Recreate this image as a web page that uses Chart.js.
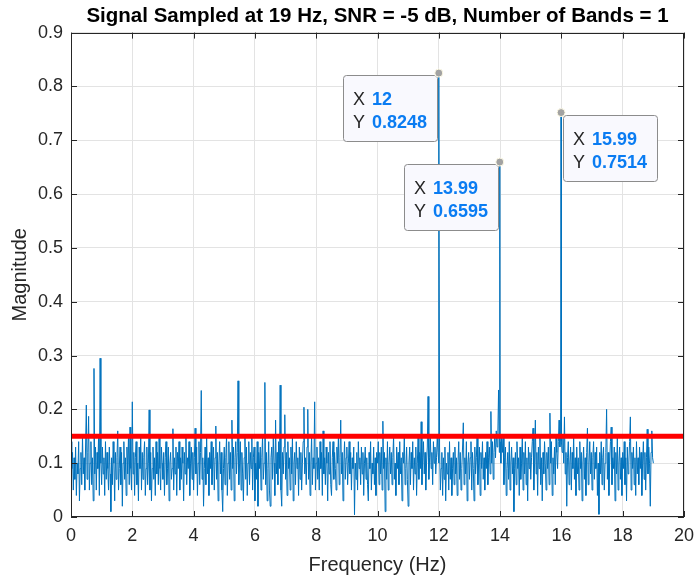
<!doctype html>
<html lang="en">
  <head>
    <meta charset="UTF-8" />
    <title>Signal Sampled at 19 Hz</title>
    <script src="https://cdn.jsdelivr.net/npm/chart.js@4.4.1/dist/chart.umd.min.js"></script>
    <style>
      html, body { margin: 0; padding: 0; background: #fff; }
      #chart { display: block; }
    </style>
  </head>
  <body>
    <canvas id="chart" width="696" height="579"></canvas>
    <script>
      // noise floor, one value every 0.025 Hz from 0 to 19 Hz (20 values = 0.5 Hz per row)
      const freqStep = 0.025;
      const noiseMags = [
        0.14, 0.09, 0.12, 0.05, 0.11, 0.07, 0.13, 0.04, 0.10, 0.08, 0.14, 0.03, 0.09, 0.12, 0.06, 0.15, 0.08, 0.11, 0.05, 0.13,
        0.208, 0.07, 0.12, 0.187, 0.05, 0.10, 0.14, 0.06, 0.11, 0.03, 0.276, 0.08, 0.13, 0.05, 0.12, 0.09, 0.15, 0.04, 0.295, 0.10,
        0.06, 0.13, 0.08, 0.11, 0.04, 0.14, 0.07, 0.12, 0.09, 0.05, 0.13, 0.08, 0.01, 0.11, 0.06, 0.14, 0.10, 0.03, 0.12, 0.07,
        0.11, 0.16, 0.05, 0.09, 0.13, 0.06, 0.12, 0.02, 0.10, 0.14, 0.07, 0.11, 0.04, 0.13, 0.08, 0.15, 0.06, 0.167, 0.09, 0.05,
        0.214, 0.08, 0.12, 0.04, 0.11, 0.14, 0.06, 0.10, 0.03, 0.13, 0.09, 0.15, 0.05, 0.12, 0.07, 0.11, 0.14, 0.04, 0.09, 0.13,
        0.06, 0.10, 0.199, 0.05, 0.12, 0.03, 0.09, 0.13, 0.07, 0.11, 0.04, 0.14, 0.08, 0.12, 0.06, 0.15, 0.09, 0.05, 0.13, 0.10,
        0.07, 0.12, 0.04, 0.11, 0.14, 0.06, 0.09, 0.13, 0.03, 0.10, 0.12, 0.07, 0.09, 0.164, 0.05, 0.11, 0.08, 0.13, 0.04, 0.12,
        0.09, 0.14, 0.05, 0.11, 0.07, 0.13, 0.10, 0.03, 0.12, 0.08, 0.15, 0.06, 0.11, 0.09, 0.14, 0.04, 0.10, 0.13, 0.07, 0.12,
        0.05, 0.11, 0.165, 0.08, 0.13, 0.04, 0.10, 0.14, 0.06, 0.12, 0.235, 0.07, 0.11, 0.02, 0.09, 0.13, 0.06, 0.15, 0.08, 0.11,
        0.04, 0.12, 0.09, 0.14, 0.06, 0.10, 0.13, 0.05, 0.11, 0.169, 0.07, 0.12, 0.03, 0.10, 0.14, 0.08, 0.12, 0.05, 0.01, 0.09,
        0.13, 0.06, 0.11, 0.15, 0.04, 0.10, 0.14, 0.07, 0.12, 0.05, 0.18, 0.09, 0.13, 0.03, 0.11, 0.14, 0.08, 0.12, 0.253, 0.06,
        0.10, 0.14, 0.05, 0.12, 0.08, 0.03, 0.11, 0.15, 0.07, 0.13, 0.04, 0.10, 0.14, 0.06, 0.12, 0.09, 0.15, 0.05, 0.11, 0.13,
        0.03, 0.10, 0.07, 0.14, 0.02, 0.12, 0.09, 0.13, 0.05, 0.11, 0.15, 0.07, 0.10, 0.25, 0.06, 0.12, 0.03, 0.09, 0.14, 0.05,
        0.02, 0.11, 0.13, 0.07, 0.15, 0.10, 0.04, 0.18, 0.08, 0.12, 0.06, 0.14, 0.09, 0.245, 0.05, 0.02, 0.12, 0.08, 0.13, 0.19,
        0.07, 0.12, 0.04, 0.14, 0.09, 0.11, 0.05, 0.13, 0.08, 0.15, 0.03, 0.10, 0.12, 0.06, 0.14, 0.09, 0.11, 0.04, 0.13, 0.07,
        0.12, 0.05, 0.10, 0.14, 0.204, 0.08, 0.11, 0.06, 0.13, 0.20, 0.07, 0.12, 0.04, 0.10, 0.15, 0.06, 0.11, 0.09, 0.214, 0.05,
        0.10, 0.13, 0.07, 0.11, 0.05, 0.14, 0.09, 0.12, 0.04, 0.16, 0.08, 0.11, 0.06, 0.13, 0.10, 0.03, 0.12, 0.08, 0.14, 0.06,
        0.04, 0.11, 0.14, 0.07, 0.12, 0.09, 0.05, 0.13, 0.10, 0.15, 0.06, 0.11, 0.18, 0.08, 0.12, 0.03, 0.10, 0.14, 0.07, 0.11,
        0.13, 0.06, 0.10, 0.14, 0.08, 0.12, 0.05, 0.11, 0.09, 0.13, 0.004, 0.10, 0.07, 0.12, 0.05, 0.14, 0.09, 0.11, 0.06, 0.13,
        0.08, 0.12, 0.04, 0.10, 0.13, 0.07, 0.11, 0.06, 0.03, 0.12, 0.09, 0.14, 0.05, 0.10, 0.08, 0.13, 0.06, 0.11, 0.04, 0.12,
        0.10, 0.14, 0.06, 0.12, 0.08, 0.13, 0.05, 0.178, 0.09, 0.12, 0.01, 0.11, 0.07, 0.14, 0.05, 0.10, 0.13, 0.08, 0.12, 0.06,
        0.11, 0.15, 0.07, 0.10, 0.04, 0.13, 0.09, 0.12, 0.06, 0.14, 0.08, 0.11, 0.03, 0.12, 0.10, 0.15, 0.06, 0.09, 0.13, 0.07,
        0.02, 0.10, 0.13, 0.06, 0.12, 0.09, 0.14, 0.05, 0.11, 0.08, 0.13, 0.04, 0.10, 0.15, 0.07, 0.12, 0.09, 0.177, 0.06, 0.11,
        0.14, 0.08, 0.12, 0.05, 0.10, 0.13, 0.224, 0.07, 0.11, 0.15, 0.09, 0.12, 0.06, 0.14, 0.10, 0.13, 0.08, 0.11, 0.15, 0.12,
        0.10, 0.13, 0.05, 0.09, 0.12, 0.04, 0.11, 0.07, 0.13, 0.03, 0.10, 0.08, 0.12, 0.05, 0.14, 0.07, 0.11, 0.04, 0.09, 0.12,
        0.06, 0.13, 0.08, 0.11, 0.04, 0.10, 0.14, 0.07, 0.12, 0.05, 0.09, 0.13, 0.175, 0.06, 0.11, 0.08, 0.14, 0.03, 0.10, 0.12,
        0.07, 0.11, 0.14, 0.05, 0.12, 0.09, 0.03, 0.13, 0.08, 0.11, 0.15, 0.06, 0.10, 0.13, 0.04, 0.12, 0.09, 0.14, 0.07, 0.11,
        0.05, 0.12, 0.09, 0.14, 0.06, 0.11, 0.13, 0.08, 0.196, 0.10, 0.14, 0.07, 0.12, 0.15, 0.11, 0.16, 0.13, 0.15, 0.236, 0.12,
        0.14, 0.10, 0.15, 0.12, 0.15, 0.06, 0.11, 0.13, 0.04, 0.09, 0.12, 0.07, 0.14, 0.05, 0.10, 0.13, 0.08, 0.11, 0.01, 0.09,
        0.12, 0.06, 0.14, 0.09, 0.11, 0.04, 0.13, 0.07, 0.10, 0.15, 0.05, 0.12, 0.08, 0.14, 0.06, 0.11, 0.03, 0.13, 0.09, 0.12,
        0.07, 0.11, 0.14, 0.165, 0.05, 0.10, 0.18, 0.08, 0.12, 0.04, 0.13, 0.09, 0.15, 0.06, 0.11, 0.03, 0.12, 0.08, 0.14, 0.10,
        0.05, 0.12, 0.09, 0.13, 0.06, 0.193, 0.10, 0.14, 0.04, 0.11, 0.08, 0.13, 0.06, 0.15, 0.12, 0.09, 0.14, 0.18, 0.13, 0.15,
        0.14, 0.12, 0.15, 0.10, 0.186, 0.08, 0.12, 0.02, 0.11, 0.14, 0.06, 0.10, 0.13, 0.05, 0.12, 0.09, 0.15, 0.07, 0.11, 0.04,
        0.13, 0.08, 0.11, 0.05, 0.14, 0.09, 0.12, 0.03, 0.10, 0.13, 0.07, 0.11, 0.04, 0.12, 0.165, 0.06, 0.10, 0.14, 0.08, 0.12,
        0.05, 0.11, 0.14, 0.07, 0.12, 0.09, 0.13, 0.04, 0.10, 0.005, 0.12, 0.08, 0.14, 0.06, 0.11, 0.13, 0.05, 0.10, 0.12, 0.20,
        0.07, 0.12, 0.04, 0.10, 0.14, 0.167, 0.06, 0.11, 0.09, 0.13, 0.03, 0.12, 0.08, 0.15, 0.05, 0.10, 0.13, 0.07, 0.11, 0.04,
        0.12, 0.09, 0.14, 0.06, 0.11, 0.03, 0.13, 0.08, 0.10, 0.14, 0.186, 0.05, 0.12, 0.09, 0.13, 0.06, 0.11, 0.04, 0.14, 0.08,
        0.11, 0.06, 0.13, 0.09, 0.12, 0.04, 0.10, 0.14, 0.07, 0.12, 0.05, 0.11, 0.163, 0.08, 0.13, 0.10, 0.02, 0.12, 0.16, 0.11,
        0.10
      ];

      // tones picked out by the data tips
      const peakFreqs = [12, 13.99, 15.99];
      const peakMags = [0.8248, 0.6595, 0.7514];
      const tipSides = ["left", "left", "right"];

      // detection threshold
      const thresholdLevel = 0.15;
      const thresholdSpan = [0, 20];

      const titleText = "Signal Sampled at 19 Hz, SNR = -5 dB, Number of Bands = 1";
      const fontFamily = "'Liberation Sans', Arial, Helvetica, sans-serif";
      const axisColor = "#262626";

      // merge noise samples and the peaks into one sorted trace
      const spectrum = noiseMags.map((m, i) => ({ x: +(i * freqStep).toFixed(3), y: m }));
      peakFreqs.forEach((f, i) => spectrum.push({ x: f, y: peakMags[i], peak: true }));
      spectrum.sort((a, b) => a.x - b.x || (a.peak ? 1 : -1));

      const threshold = thresholdSpan.map((x) => ({ x: x, y: thresholdLevel }));

      // box round the axes with inward ticks, like the original figure
      const axesBox = {
        id: "axesBox",
        afterDatasetsDraw(chart) {
          const { ctx, chartArea: a, scales } = chart;
          const tl = 6;
          ctx.save();
          ctx.strokeStyle = axisColor;
          ctx.lineWidth = 1;
          ctx.beginPath();
          scales.x.ticks.forEach((t) => {
            const px = Math.round(scales.x.getPixelForValue(t.value)) + 0.5;
            ctx.moveTo(px, a.bottom);
            ctx.lineTo(px, a.bottom - tl);
            ctx.moveTo(px, a.top);
            ctx.lineTo(px, a.top + tl);
          });
          scales.y.ticks.forEach((t) => {
            const py = Math.round(scales.y.getPixelForValue(t.value)) + 0.5;
            ctx.moveTo(a.left, py);
            ctx.lineTo(a.left + tl, py);
            ctx.moveTo(a.right, py);
            ctx.lineTo(a.right - tl, py);
          });
          ctx.stroke();
          ctx.strokeRect(Math.round(a.left) + 0.5, Math.round(a.top) + 0.5,
            Math.round(a.right - a.left) - 1, Math.round(a.bottom - a.top) - 1);
          ctx.restore();
        },
      };

      // data tips at the three peaks
      const dataTips = {
        id: "dataTips",
        afterDraw(chart) {
          const { ctx, scales } = chart;
          const w = 94, h = 66;
          ctx.save();
          peakFreqs.forEach((f, i) => {
            const px = scales.x.getPixelForValue(f);
            const py = scales.y.getPixelForValue(peakMags[i]);
            const bx = tipSides[i] === "left" ? Math.round(px) - 2 - w : Math.round(px) + 2;
            const by = Math.round(py) + 2;
            ctx.beginPath();
            ctx.roundRect(bx + 0.5, by + 0.5, w, h, 3);
            ctx.fillStyle = "#f9f9fe";
            ctx.fill();
            ctx.strokeStyle = "#8c8c8c";
            ctx.lineWidth = 1;
            ctx.stroke();

            const rows = [["X", String(f)], ["Y", String(peakMags[i])]];
            rows.forEach((r, k) => {
              const ty = by + 30 + k * 23;
              ctx.textBaseline = "alphabetic";
              ctx.textAlign = "left";
              ctx.font = "18px " + fontFamily;
              ctx.fillStyle = axisColor;
              ctx.fillText(r[0], bx + 10, ty);
              ctx.font = "bold 18px " + fontFamily;
              ctx.fillStyle = "#0a7cf2";
              ctx.fillText(r[1], bx + 29, ty);
            });

            ctx.beginPath();
            ctx.arc(px, py, 4, 0, Math.PI * 2);
            ctx.fillStyle = "#a2a2a2";
            ctx.fill();
            ctx.strokeStyle = "#fffbe6";
            ctx.lineWidth = 1;
            ctx.stroke();
          });
          ctx.restore();
        },
      };

      new Chart(document.getElementById("chart"), {
        type: "line",
        data: {
          datasets: [
            {
              label: "Threshold",
              data: threshold,
              borderColor: "#ff0000",
              borderWidth: 5,
              pointRadius: 0,
            },
            {
              label: "Spectrum",
              data: spectrum,
              borderColor: "#0072bd",
              borderWidth: 1,
              pointRadius: 0,
              tension: 0,
            },
          ],
        },
        options: {
          responsive: false,
          animation: false,
          events: [],
          layout: { padding: 0 },
          plugins: {
            legend: { display: false },
            tooltip: { enabled: false },
            title: {
              display: true,
              fullSize: false,
              text: titleText,
              color: "#000",
              font: { family: fontFamily, size: 20.5, weight: "bold" },
              padding: { top: 4, bottom: 4 },
            },
          },
          scales: {
            x: {
              type: "linear",
              min: 0,
              max: 20,
              afterFit: (s) => {
                s.height = 62;
                s.paddingLeft = 0;
                s.paddingRight = 12;
              },
              ticks: {
                stepSize: 2,
                color: axisColor,
                padding: 8,
                maxRotation: 0,
                font: { family: fontFamily, size: 18 },
              },
              grid: { color: "#e3e3e3", drawTicks: false },
              border: { display: false },
              title: {
                display: true,
                text: "Frequency (Hz)",
                color: axisColor,
                font: { family: fontFamily, size: 20 },
                padding: { top: 0, bottom: 2 },
              },
            },
            y: {
              min: 0,
              max: 0.9,
              afterFit: (s) => { s.width = 71; },
              ticks: {
                stepSize: 0.1,
                color: axisColor,
                padding: 8,
                font: { family: fontFamily, size: 18 },
                callback: (v) => String(+v.toFixed(1)),
              },
              grid: { color: "#e3e3e3", drawTicks: false },
              border: { display: false },
              title: {
                display: true,
                text: "Magnitude",
                color: axisColor,
                font: { family: fontFamily, size: 20 },
                padding: { top: 8, bottom: 0 },
              },
            },
          },
        },
        plugins: [axesBox, dataTips],
      });
    </script>
  </body>
</html>
